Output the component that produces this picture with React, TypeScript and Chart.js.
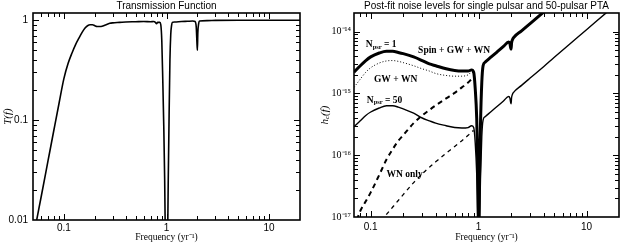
import React, { useEffect, useRef } from 'react';
import { Chart, registerables } from 'chart.js';

Chart.register(...registerables);

// ---------------- Left panel: transmission function ----------------
const freqT = [0.05, 0.054, 0.06, 0.07, 0.08, 0.09, 0.1, 0.11, 0.12, 0.13, 0.14, 0.15, 0.16, 0.17, 0.18, 0.19, 0.2, 0.21, 0.23, 0.25, 0.28, 0.3, 0.35, 0.4, 0.5, 0.6, 0.7, 0.75, 0.78, 0.8, 0.82, 0.84, 0.86, 0.88, 0.9, 0.92, 0.94, 0.96, 0.975, 0.99, 1.0, 1.01, 1.025, 1.04, 1.06, 1.08, 1.1, 1.12, 1.14, 1.2, 1.4, 1.6, 1.8, 1.9, 1.95, 1.98, 2.0, 2.02, 2.06, 2.1, 2.5, 3, 5, 10, 20];
const transmission = [0.0064, 0.0097, 0.017, 0.039, 0.08, 0.15, 0.26, 0.37, 0.47, 0.57, 0.66, 0.75, 0.83, 0.88, 0.9, 0.9, 0.88, 0.865, 0.865, 0.89, 0.93, 0.94, 0.95, 0.96, 0.965, 0.97, 0.965, 0.97, 0.95, 0.92, 0.95, 0.95, 0.95, 0.9, 0.62, 0.25, 0.09, 0.025, 0.006, 0.001, 0.0003, 0.001, 0.006, 0.025, 0.11, 0.4, 0.72, 0.88, 0.95, 0.96, 0.97, 0.975, 0.98, 0.97, 0.85, 0.6, 0.5, 0.75, 0.93, 0.98, 0.99, 0.995, 1.0, 1.0, 1.0];

// ---------------- Right panel: post-fit noise levels ----------------
const freqH = [0.07, 0.08, 0.09, 0.1, 0.12, 0.14, 0.16, 0.18, 0.2, 0.25, 0.3, 0.35, 0.4, 0.5, 0.6, 0.7, 0.8, 0.86, 0.9, 0.93, 0.96, 0.98, 1.0, 1.02, 1.04, 1.07, 1.1, 1.15, 1.3, 1.5, 1.7, 1.9, 1.95, 1.98, 2.0, 2.02, 2.06, 2.1, 2.5, 3, 4, 5, 7, 10, 15, 20];
// Npsr = 1, Spin + GW + WN (thick solid)
const hSpinGwWn1 = [2.2e-15, 2.8e-15, 3.4e-15, 3.9e-15, 4.5e-15, 4.8e-15, 4.8e-15, 4.6e-15, 4.4e-15, 3.9e-15, 3.4e-15, 3.0e-15, 2.8e-15, 2.5e-15, 2.35e-15, 2.3e-15, 2.3e-15, 2.4e-15, 2.2e-15, 1.2e-15, 4e-16, 8e-17, 5e-18, 5e-17, 3e-16, 1.5e-15, 2.8e-15, 3.2e-15, 3.85e-15, 4.77e-15, 5.75e-15, 6.8e-15, 6.4e-15, 5.5e-15, 5.2e-15, 6.5e-15, 7.4e-15, 7.9e-15, 1.03e-14, 1.35e-14, 2.07e-14, 2.9e-14, 4.8e-14, 8.2e-14, 1.5e-13, 2.3e-13];
// Npsr = 1, GW + WN (dotted)
const hGwWn1 = [1.25e-15, 1.7e-15, 2.2e-15, 2.6e-15, 3.1e-15, 3.35e-15, 3.4e-15, 3.3e-15, 3.15e-15, 2.8e-15, 2.5e-15, 2.3e-15, 2.1e-15, 1.95e-15, 1.9e-15, 1.9e-15, 2.0e-15, 2.2e-15, 2.15e-15, null, null, null, null, null, null, null, null, null, null, null, null, null, null, null, null, null, null, null, null, null, null, null, null, null, null, null];
// Npsr = 1, WN only (thick dashed)
const hWnOnly1 = [6.5e-18, 1.25e-17, 1.8e-17, 2.5e-17, 4.8e-17, 8.5e-17, 1.25e-16, 1.7e-16, 2.1e-16, 3.3e-16, 4.4e-16, 5.4e-16, 6.4e-16, 8.3e-16, 1.02e-15, 1.25e-15, 1.5e-15, 1.7e-15, 1.8e-15, null, null, null, null, null, null, null, null, null, null, null, null, null, null, null, null, null, null, null, null, null, null, null, null, null, null, null];
// Npsr = 50, Spin + GW + WN (thin solid)
const hSpinGwWn50 = [2.9e-16, 3.6e-16, 4.4e-16, 5.0e-16, 5.8e-16, 6.3e-16, 6.3e-16, 6.0e-16, 5.6e-16, 4.8e-16, 4.0e-16, 3.6e-16, 3.3e-16, 3.0e-16, 2.8e-16, 2.75e-16, 2.8e-16, 3.0e-16, 2.8e-16, 1.6e-16, 5e-17, 1.1e-17, 7e-19, 7e-18, 4e-17, 2e-16, 3.7e-16, 4.2e-16, 5.05e-16, 6.25e-16, 7.55e-16, 8.9e-16, 8.4e-16, 7.2e-16, 6.8e-16, 8.5e-16, 9.7e-16, 1.03e-15, 1.35e-15, 1.77e-15, 2.7e-15, 3.8e-15, 6.3e-15, 1.07e-14, 1.97e-14, 3.0e-14];
// Npsr = 50, WN only (thin dashed)
const hWnOnly50 = [2e-18, 3e-18, 4.2e-18, 5.5e-18, 8e-18, 1.1e-17, 1.45e-17, 1.85e-17, 2.3e-17, 3.6e-17, 5.0e-17, 6.4e-17, 7.8e-17, 1.08e-16, 1.38e-16, 1.72e-16, 2.1e-16, 2.4e-16, 2.5e-16, null, null, null, null, null, null, null, null, null, null, null, null, null, null, null, null, null, null, null, null, null, null, null, null, null, null, null];

// ---------------- Axis ticks / titles ----------------
const tickValsT = [0.01, 0.1, 1];
const tickLabelsT = ['0.01', '0.1', '1'];
const tickValsX = [0.1, 1, 10];
const tickLabelsX = ['0.1', '1', '10'];
const tickValsH = [1e-17, 1e-16, 1e-15, 1e-14];
const tickLabelsH = ['10⁻¹⁷', '10⁻¹⁶', '10⁻¹⁵', '10⁻¹⁴'];
const titleT = 'Transmission Function';
const titleH = 'Post-fit noise levels for single pulsar and 50-pulsar PTA';
const xTitle = 'Frequency (yr⁻¹)';

// annotation labels (right panel): text, anchor frequency, anchor level
const annotations = [
  { text: 'N', sub: 'psr', rest: ' = 1', f: 0.09, h: 6.2e-15 },
  { text: 'Spin + GW + WN', sub: '', rest: '', f: 0.275, h: 4.9e-15 },
  { text: 'GW + WN', sub: '', rest: '', f: 0.107, h: 1.66e-15 },
  { text: 'N', sub: 'psr', rest: ' = 50', f: 0.092, h: 7.8e-16 },
  { text: 'WN only', sub: '', rest: '', f: 0.14, h: 4.9e-17 },
];

const SANS = "'Liberation Sans', Arial, sans-serif";
const SERIF = "'Liberation Serif', 'Times New Roman', serif";

function logTickList(min: number, max: number) {
  const out: { v: number; major: boolean }[] = [];
  for (let d = Math.floor(Math.log10(min)); d <= Math.ceil(Math.log10(max)); d++) {
    for (let k = 1; k <= 9; k++) {
      const v = k * Math.pow(10, d);
      if (v >= min * 0.999 && v <= max * 1.001) out.push({ v, major: k === 1 });
    }
  }
  return out;
}

const frameTicksPlugin = {
  id: 'frameTicks',
  afterDatasetsDraw(chart: any) {
    const { ctx, chartArea: a } = chart;
    const xs = chart.scales.x;
    const ys = chart.scales.y;
    ctx.save();
    ctx.strokeStyle = '#000';
    ctx.lineWidth = 1;
    ctx.beginPath();
    for (const t of logTickList(xs.min, xs.max)) {
      const p = Math.round(xs.getPixelForValue(t.v)) + 0.5;
      if (p <= a.left + 1 || p >= a.right - 1) continue;
      const L = t.major ? 6 : 4;
      ctx.moveTo(p, a.bottom);
      ctx.lineTo(p, a.bottom - L);
      ctx.moveTo(p, a.top);
      ctx.lineTo(p, a.top + L);
    }
    for (const t of logTickList(ys.min, ys.max)) {
      const p = Math.round(ys.getPixelForValue(t.v)) + 0.5;
      if (p <= a.top + 1 || p >= a.bottom - 1) continue;
      const L = t.major ? 6 : 4;
      ctx.moveTo(a.left, p);
      ctx.lineTo(a.left + L, p);
      ctx.moveTo(a.right, p);
      ctx.lineTo(a.right - L, p);
    }
    ctx.stroke();
    ctx.lineWidth = 1.6;
    ctx.strokeRect(a.left, a.top, a.right - a.left, a.bottom - a.top);
    ctx.restore();
  },
  afterDraw(chart: any, _args: any, opts: any) {
    const { ctx, chartArea: a } = chart;
    ctx.save();
    ctx.fillStyle = '#000';
    ctx.font = `10px ${SANS}`;
    ctx.textAlign = 'center';
    ctx.textBaseline = 'middle';
    ctx.fillText(opts.title || '', (a.left + a.right) / 2, 6);
    if (opts.hcTitle) {
      ctx.translate(a.left - 29, (a.top + a.bottom) / 2);
      ctx.rotate(-Math.PI / 2);
      const f1 = `italic 11px ${SERIF}`;
      const f2 = `italic 7px ${SERIF}`;
      ctx.font = f1;
      const w1 = ctx.measureText('h').width;
      const w3 = ctx.measureText('(f)').width;
      ctx.font = f2;
      const w2 = ctx.measureText('c').width;
      let x = -(w1 + w2 + w3) / 2;
      ctx.textAlign = 'left';
      ctx.font = f1;
      ctx.fillText('h', x, 0);
      x += w1;
      ctx.font = f2;
      ctx.fillText('c', x, 2.5);
      x += w2;
      ctx.font = f1;
      ctx.fillText('(f)', x, 0);
    }
    ctx.restore();
  },
};

const annotationPlugin = {
  id: 'noiseLabels',
  afterDatasetsDraw(chart: any, _args: any, opts: any) {
    if (!opts.items) return;
    const { ctx } = chart;
    const xs = chart.scales.x;
    const ys = chart.scales.y;
    ctx.save();
    ctx.fillStyle = '#000';
    ctx.textAlign = 'left';
    ctx.textBaseline = 'middle';
    for (const it of opts.items) {
      let x = xs.getPixelForValue(it.f);
      const y = ys.getPixelForValue(it.h);
      ctx.font = `bold 9.5px ${SERIF}`;
      ctx.fillText(it.text, x, y);
      x += ctx.measureText(it.text).width;
      if (it.sub) {
        ctx.font = `bold 6.5px ${SERIF}`;
        ctx.fillText(it.sub, x, y + 2.5);
        x += ctx.measureText(it.sub).width;
        ctx.font = `bold 9.5px ${SERIF}`;
        ctx.fillText(it.rest, x, y);
      }
    }
    ctx.restore();
  },
};

function fixedScale(size: number, horizontal: boolean) {
  return (scale: any) => {
    if (horizontal) scale.height = size;
    else scale.width = size;
    scale.paddingTop = 0;
    scale.paddingBottom = 0;
    scale.paddingLeft = 0;
    scale.paddingRight = 0;
  };
}

function setTicks(vals: number[]) {
  return (scale: any) => {
    scale.ticks = vals.map((v) => ({ value: v }));
  };
}

function pts(xs: number[], ys: (number | null)[]) {
  return xs.map((x, i) => ({ x, y: ys[i] }));
}

function makeXScale(min: number, max: number, height: number, pad: number) {
  return {
    type: 'logarithmic' as const,
    min,
    max,
    bounds: 'data' as const,
    grid: { display: false, drawTicks: false },
    border: { display: false },
    afterBuildTicks: setTicks(tickValsX),
    afterFit: fixedScale(height, true),
    ticks: {
      autoSkip: false,
      maxRotation: 0,
      padding: pad,
      color: '#000',
      font: { family: SANS, size: 10 },
      callback: (_v: any, i: number) => tickLabelsX[i],
    },
    title: {
      display: true,
      text: xTitle,
      color: '#000',
      font: { family: SERIF, size: 9.5, lineHeight: 1.2 },
      padding: 0,
    },
  };
}

export default function App() {
  const leftRef = useRef<HTMLCanvasElement>(null);
  const rightRef = useRef<HTMLCanvasElement>(null);

  useEffect(() => {
    const left = new Chart(leftRef.current as HTMLCanvasElement, {
      type: 'line',
      data: {
        datasets: [
          {
            data: pts(freqT, transmission),
            borderColor: '#000',
            borderWidth: 1.6,
            pointRadius: 0,
            fill: false,
            cubicInterpolationMode: 'monotone',
          },
        ],
      },
      options: {
        responsive: false,
        animation: false,
        devicePixelRatio: 1,
        layout: { padding: { top: 13, right: 11, left: 0, bottom: 0 } },
        plugins: {
          legend: { display: false },
          tooltip: { enabled: false },
          frameTicks: { title: titleT },
        } as any,
        scales: {
          x: makeXScale(0.05, 20, 23, 2),
          y: {
            type: 'logarithmic',
            min: 0.01,
            max: 1.18,
            bounds: 'data',
            grid: { display: false, drawTicks: false },
            border: { display: false },
            afterBuildTicks: setTicks(tickValsT),
            afterFit: fixedScale(33, false),
            ticks: {
              autoSkip: false,
              padding: 5,
              color: '#000',
              font: { family: SANS, size: 10 },
              callback: (_v: any, i: number) => tickLabelsT[i],
            },
            title: {
              display: true,
              text: 'T(f)',
              color: '#000',
              font: { family: SERIF, size: 11, style: 'italic', lineHeight: 1.2 },
              padding: { top: 2, bottom: 0 },
            },
          },
        } as any,
      },
      plugins: [frameTicksPlugin],
    });

    const line = (data: any, width: number, dash: number[] = []) => ({
      data,
      borderColor: '#000',
      borderWidth: width,
      borderDash: dash,
      pointRadius: 0,
      fill: false,
      spanGaps: false,
      cubicInterpolationMode: 'monotone' as const,
    });

    const right = new Chart(rightRef.current as HTMLCanvasElement, {
      type: 'line',
      data: {
        datasets: [
          line(pts(freqH, hSpinGwWn1), 3),
          line(pts(freqH, hSpinGwWn50), 1.4),
          line(pts(freqH, hGwWn1), 1, [1, 2]),
          line(pts(freqH, hWnOnly1), 2, [5, 4]),
          line(pts(freqH, hWnOnly50), 1.3, [4, 4]),
        ] as any,
      },
      options: {
        responsive: false,
        animation: false,
        devicePixelRatio: 1,
        layout: { padding: { top: 13, right: 3, left: 0, bottom: 0 } },
        plugins: {
          legend: { display: false },
          tooltip: { enabled: false },
          frameTicks: { title: titleH, hcTitle: true },
          noiseLabels: { items: annotations },
        } as any,
        scales: {
          x: makeXScale(0.07, 20, 26, 4),
          y: {
            type: 'logarithmic',
            min: 1e-17,
            max: 2e-14,
            bounds: 'data',
            grid: { display: false, drawTicks: false },
            border: { display: false },
            afterBuildTicks: setTicks(tickValsH),
            afterFit: fixedScale(43, false),
            ticks: {
              autoSkip: false,
              padding: 3,
              color: '#000',
              font: { family: SERIF, size: 10 },
              callback: (_v: any, i: number) => tickLabelsH[i],
            },
            title: { display: false },
          },
        } as any,
      },
      plugins: [frameTicksPlugin, annotationPlugin],
    });

    return () => {
      left.destroy();
      right.destroy();
    };
  }, []);

  return (
    <div style={{ position: 'absolute', left: 0, top: 0, width: 622, height: 243, background: '#fff' }}>
      <canvas
        ref={leftRef}
        width={311}
        height={243}
        style={{ position: 'absolute', left: 0, top: 0, width: 311, height: 243 }}
      />
      <canvas
        ref={rightRef}
        width={311}
        height={243}
        style={{ position: 'absolute', left: 311, top: 0, width: 311, height: 243 }}
      />
    </div>
  );
}
